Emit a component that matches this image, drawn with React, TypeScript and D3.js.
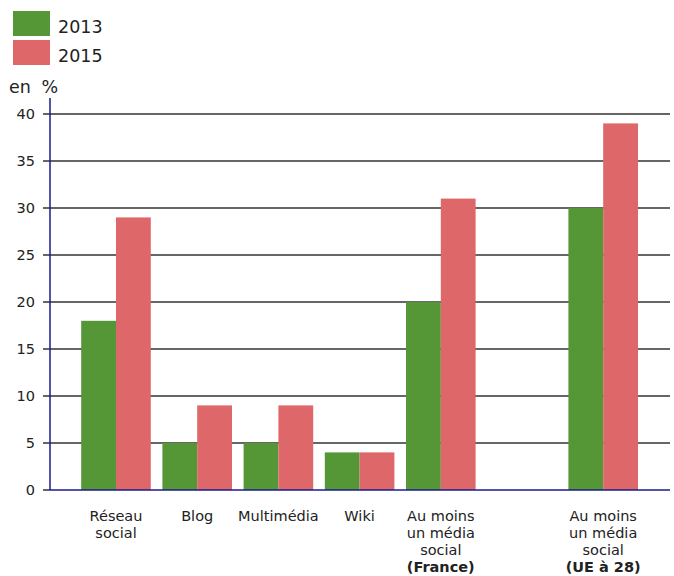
import React from "react";
import * as d3 from "d3";

const categories = ["Réseau social", "Blog", "Multimédia", "Wiki", "Au moins un média social (France)", "", "Au moins un média social (UE à 28)"];
const labelLines: string[][] = [
  ["Réseau", "social"],
  ["Blog"],
  ["Multimédia"],
  ["Wiki"],
  ["Au moins", "un média", "social", "(France)"],
  [],
  ["Au moins", "un média", "social", "(UE à 28)"],
];
const boldLast = [false, false, false, false, true, false, true];
const series = ["2013", "2015"];
const values2013: (number | null)[] = [18, 5, 5, 4, 20, null, 30];
const values2015: (number | null)[] = [29, 9, 9, 4, 31, null, 39];
const yTicks = [0, 5, 10, 15, 20, 25, 30, 35, 40];
const colors = ["#559736", "#DE6769"];

export default function App() {
  const W = 674, H = 576;
  const axisX = 50, right = 670, top = 114, bottom = 490;
  const y = d3.scaleLinear().domain([0, 40]).range([bottom, top]);
  const x = d3.scaleBand<string>().domain(categories.map((c, i) => String(i))).range([75.4, 643.8]).paddingInner(0.143).paddingOuter(0.0715);
  const x1 = d3.scaleBand<string>().domain(series).range([0, x.bandwidth()]);
  const font = "DejaVu Sans, Verdana, sans-serif";
  const all = [values2013, values2015];
  return (
    <svg width={W} height={H} style={{ position: "absolute", left: 0, top: 0 }}>
      <rect x={0} y={0} width={W} height={H} fill="#fff" />
      {/* legend */}
      {series.map((s, i) => (
        <g key={s}>
          <rect x={13} y={11 + i * 29} width={37} height={25} fill={colors[i]} />
          <text x={58} y={33 + i * 29} fontFamily={font} fontSize={17.5} fill="#222">{s}</text>
        </g>
      ))}
      <text x={9} y={93} fontFamily={font} fontSize={17.5} wordSpacing={5} fill="#222">en %</text>
      {/* gridlines */}
      {yTicks.map((t) => (
        <g key={t}>
          <line x1={43} x2={t === 0 ? axisX : right} y1={y(t)} y2={y(t)} stroke="#333" strokeWidth={1.5} />
          <text x={35} y={y(t) + 5} textAnchor="end" fontFamily={font} fontSize={14.5} fill="#222">{t}</text>
        </g>
      ))}
      {/* bars */}
      {categories.map((c, i) => (
        <g key={i} transform={`translate(${x(String(i))},0)`}>
          {all.map((vals, s) => {
            const v = vals[i];
            if (v == null) return null;
            return <rect key={s} x={x1(series[s])} y={y(v)} width={x1.bandwidth()} height={y(0) - y(v)} fill={colors[s]} />;
          })}
        </g>
      ))}
      {/* axes */}
      <line x1={axisX} x2={axisX} y1={98} y2={bottom} stroke="#1a1a8a" strokeWidth={1.5} />
      <line x1={axisX} x2={right} y1={bottom} y2={bottom} stroke="#1a1a8a" strokeWidth={1.5} />
      {/* category labels */}
      {labelLines.map((lines, i) => (
        <text key={i} textAnchor="middle" fontFamily={font} fontSize={14.5} fill="#222">
          {lines.map((l, j) => (
            <tspan key={j} x={(x(String(i)) ?? 0) + x.bandwidth() / 2} y={521 + j * 17}
              fontWeight={boldLast[i] && j === lines.length - 1 ? "bold" : "normal"}>{l}</tspan>
          ))}
        </text>
      ))}
    </svg>
  );
}
